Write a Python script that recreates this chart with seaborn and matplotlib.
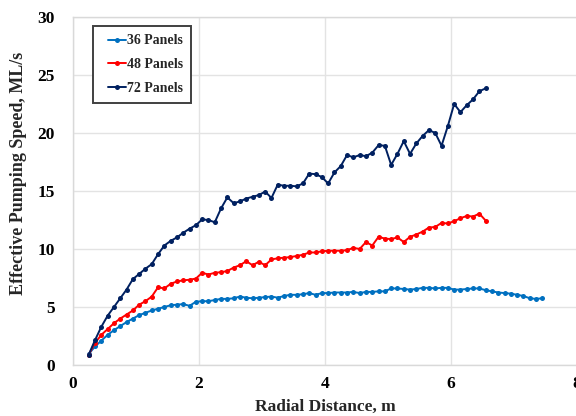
import numpy as np
import pandas as pd
import matplotlib
matplotlib.use("Agg")
import matplotlib.pyplot as plt
from matplotlib.lines import Line2D
from matplotlib.legend_handler import HandlerLine2D
import seaborn as sns

# Effective pumping speed (ML/s) sampled every 0.1 m of radial distance
series_names = ["36 Panels", "48 Panels", "72 Panels"]
series_colors = ["#0070C0", "#FF0000", "#002060"]

speed_36 = [
    0.95, 1.6, 2.1, 2.6, 3.0, 3.35, 3.7, 4.0, 4.3, 4.5,
    4.7, 4.85, 5.0, 5.15, 5.2, 5.25, 5.1, 5.45, 5.5, 5.5,
    5.6, 5.7, 5.7, 5.75, 5.9, 5.8, 5.75, 5.8, 5.85, 5.9,
    5.8, 5.95, 6.05, 6.05, 6.1, 6.2, 6.05, 6.2, 6.2, 6.25,
    6.25, 6.25, 6.3, 6.2, 6.3, 6.3, 6.35, 6.35, 6.6, 6.6,
    6.55, 6.5, 6.55, 6.65, 6.65, 6.6, 6.65, 6.65, 6.5, 6.5,
    6.55, 6.6, 6.6, 6.45, 6.35, 6.25, 6.2, 6.15, 6.05, 5.95,
    5.75, 5.7, 5.75,
]

speed_48 = [
    0.9, 1.9, 2.6, 3.1, 3.6, 4.0, 4.35, 4.7, 5.2, 5.5,
    5.9, 6.7, 6.6, 7.0, 7.2, 7.3, 7.35, 7.45, 7.95, 7.8,
    7.95, 8.0, 8.1, 8.4, 8.6, 8.95, 8.6, 8.9, 8.6, 9.1,
    9.2, 9.25, 9.3, 9.4, 9.5, 9.7, 9.7, 9.8, 9.85, 9.85,
    9.85, 9.9, 10.1, 10.0, 10.6, 10.3, 11.05, 10.9, 10.85, 11.0,
    10.6, 11.05, 11.25, 11.5, 11.85, 11.9, 12.25, 12.2, 12.4, 12.65,
    12.85, 12.8, 13.05, 12.45,
]

speed_72 = [
    0.9, 2.15, 3.3, 4.25, 5.0, 5.75, 6.5, 7.4, 7.85, 8.3,
    8.7, 9.55, 10.3, 10.7, 11.0, 11.4, 11.75, 12.05, 12.55, 12.5,
    12.3, 13.5, 14.45, 13.95, 14.1, 14.35, 14.5, 14.65, 14.95, 14.4,
    15.55, 15.45, 15.45, 15.4, 15.65, 16.5, 16.45, 16.2, 15.65, 16.6,
    17.15, 18.1, 17.9, 18.1, 18.0, 18.3, 18.95, 18.9, 17.25, 18.2,
    19.3, 18.2, 19.1, 19.75, 20.25, 20.0, 18.9, 20.6, 22.5, 21.8,
    22.4, 22.9, 23.6, 23.85,
]

x_ticks = [0, 2, 4, 6, 8]
y_ticks = [0, 5, 10, 15, 20, 25, 30]

frames = []
for name, vals in zip(series_names, [speed_36, speed_48, speed_72]):
    dist = np.round(0.25 + 0.1 * np.arange(len(vals)), 2)
    frames.append(pd.DataFrame({"Radial Distance, m": dist,
                                "speed": vals,
                                "series": name}))
data = pd.concat(frames, ignore_index=True)

sns.set_theme(style="whitegrid")
plt.rcParams["font.family"] = ["Liberation Serif", "DejaVu Serif"]

fig = plt.figure(figsize=(5.76, 4.16), dpi=100)
ax = fig.add_axes([73 / 576, 51 / 416, 504 / 576, 348 / 416])

sns.lineplot(data=data, x="Radial Distance, m", y="speed", hue="series",
             hue_order=series_names, palette=series_colors,
             marker="o", markersize=3.6, markeredgewidth=0,
             linewidth=1.4, sort=False, estimator=None, ax=ax)

ax.set_xlim(0, 8)
ax.set_ylim(0, 30)
ax.set_xticks(x_ticks)
ax.set_yticks(y_ticks)
ax.grid(True, color="#e3e3e3", linewidth=1.0)
for side, sp in ax.spines.items():
    sp.set_color("#d9d9d9")
    sp.set_linewidth(1.0)
ax.tick_params(axis="both", length=0, labelsize=12.5, colors="black")
ax.tick_params(axis="y", pad=13)
ax.tick_params(axis="x", pad=8)
for lab in ax.get_xticklabels() + ax.get_yticklabels():
    lab.set_fontweight("bold")

ax.set_xlabel("Radial Distance, m", fontsize=12.5, fontweight="bold", labelpad=5)
ax.set_ylabel("Effective Pumping Speed, ML/s", fontsize=13,
              fontweight="bold")
ax.yaxis.set_label_coords((27 - 73) / 504, (365 - 173) / 348)

leg = ax.legend(loc="upper left", bbox_to_anchor=(0.0397, 0.974),
                prop={"weight": "bold", "size": 10}, frameon=True,
                fancybox=False, handlelength=1.8, handletextpad=0.05,
                borderpad=0.6, labelspacing=0.78, borderaxespad=0,
                handler_map={Line2D: HandlerLine2D(xpad=0.5)})
leg.get_frame().set_edgecolor("#404040")
leg.get_frame().set_linewidth(1.4)
leg.get_frame().set_alpha(1)

fig.savefig("out.png", dpi=100)
